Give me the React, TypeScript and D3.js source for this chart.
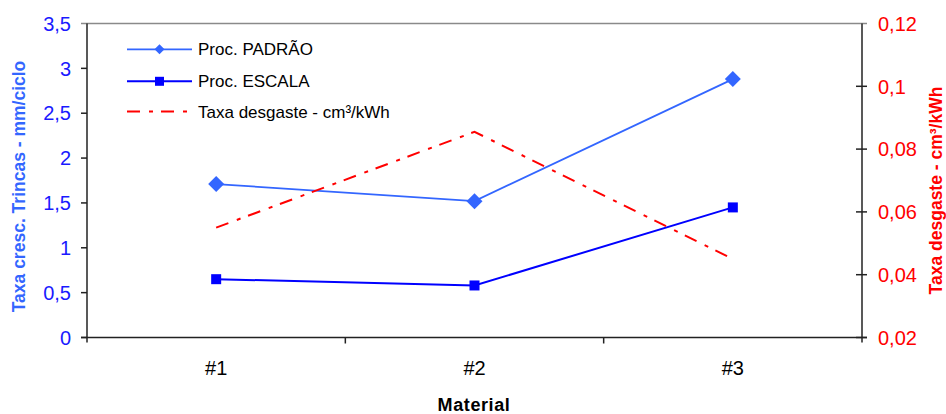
import React from "react";
import * as d3 from "d3";

const categories = ["#1", "#2", "#3"];
const padraoValues = [1.71, 1.52, 2.88];
const escalaValues = [0.65, 0.58, 1.45];
const desgasteValues = [0.055, 0.0855, 0.045];
const leftTickValues = [0, 0.5, 1, 1.5, 2, 2.5, 3, 3.5];
const leftTickLabels = ["0", "0,5", "1", "1,5", "2", "2,5", "3", "3,5"];
const rightTickValues = [0.02, 0.04, 0.06, 0.08, 0.1, 0.12];
const rightTickLabels = ["0,02", "0,04", "0,06", "0,08", "0,1", "0,12"];
const seriesNames = ["Proc. PADRÃO", "Proc. ESCALA", "Taxa desgaste - cm³/kWh"];

const W = 946;
const H = 414;
const left = 87;
const right = 862;
const top = 23.5;
const bottom = 337.5;

const C_PADRAO = "#3366FF";
const C_ESCALA = "#0000FF";
const C_RED = "#FF0000";
const FONT = "Liberation Sans, Arial, sans-serif";

export default function App() {
  const x = d3.scaleBand<string>().domain(categories).range([left, right]);
  const yL = d3.scaleLinear().domain([0, 3.5]).range([bottom, top]);
  const yR = d3.scaleLinear().domain([0.02, 0.12]).range([bottom, top]);
  const cx = (c: string) => (x(c) as number) + x.bandwidth() / 2;

  const lineL = d3
    .line<number>()
    .x((_, i) => cx(categories[i]))
    .y((d) => yL(d));
  const lineR = d3
    .line<number>()
    .x((_, i) => cx(categories[i]))
    .y((d) => yR(d));

  const diamond = (px: number, py: number, r: number) =>
    `M${px},${py - r}L${px + r},${py}L${px},${py + r}L${px - r},${py}Z`;

  const dash = "13 9 4 8";
  const legendX1 = 127;
  const legendX2 = 192;
  const legendYs = [49.3, 81.3, 111.5];

  return (
    <svg
      width={W}
      height={H}
      style={{ position: "absolute", left: 0, top: 0, background: "#fff" }}
      fontFamily={FONT}
    >
      {/* top border */}
      <line x1={left - 6} x2={right + 5} y1={top} y2={top} stroke="#8a8a8a" strokeWidth={1.5} />
      {/* axes */}
      <g stroke="#222" strokeWidth={1.5} fill="none">
        <line x1={left} y1={top} x2={left} y2={bottom + 5} />
        <line x1={left - 6} y1={bottom} x2={right + 5} y2={bottom} />
        <line x1={right} y1={top} x2={right} y2={bottom + 5} />
        {leftTickValues.filter((v) => v !== 3.5).map((v) => (
          <line key={"lt" + v} x1={left - 6} x2={left} y1={yL(v)} y2={yL(v)} />
        ))}
        {rightTickValues.filter((v) => v !== 0.12).map((v) => (
          <line key={"rt" + v} x1={right - 6} x2={right + 5} y1={yR(v)} y2={yR(v)} />
        ))}
        {categories.slice(1).map((c) => (
          <line key={"xt" + c} x1={x(c) as number} x2={x(c) as number} y1={bottom} y2={bottom + 6} />
        ))}
      </g>

      {/* tick labels */}
      {leftTickValues.map((v, i) => (
        <text key={"ll" + v} x={71} y={yL(v)} dy="0.36em" textAnchor="end" fontSize={20} fill="#1a1aff">
          {leftTickLabels[i]}
        </text>
      ))}
      {rightTickValues.map((v, i) => (
        <text key={"rl" + v} x={878} y={yR(v)} dy="0.36em" textAnchor="start" fontSize={20} fill={C_RED}>
          {rightTickLabels[i]}
        </text>
      ))}
      {categories.map((c) => (
        <text key={"xl" + c} x={cx(c)} y={375} textAnchor="middle" fontSize={20} fill="#000">
          {c}
        </text>
      ))}

      {/* axis titles */}
      <text x={W / 2 + 1} y={411} textAnchor="middle" fontSize={18} fontWeight="bold" fill="#000" letterSpacing={0.6}>
        Material
      </text>
      <text
        transform={`translate(25,186.5) rotate(-90)`}
        textAnchor="middle"
        fontSize={17.5}
        fontWeight="bold"
        fill={C_PADRAO}
      >
        Taxa cresc. Trincas - mm/ciclo
      </text>
      <text
        transform={`translate(942,190.5) rotate(-90)`}
        textAnchor="middle"
        fontSize={17.5}
        fontWeight="bold"
        fill={C_RED}
      >
        Taxa desgaste - cm³/kWh
      </text>

      {/* series */}
      <path d={lineL(padraoValues) || ""} fill="none" stroke={C_PADRAO} strokeWidth={1.8} />
      <path d={lineL(escalaValues) || ""} fill="none" stroke={C_ESCALA} strokeWidth={2} />
      <path d={lineR(desgasteValues) || ""} fill="none" stroke={C_RED} strokeWidth={2} strokeDasharray={dash} />
      {padraoValues.map((v, i) => (
        <path key={"pm" + i} d={diamond(cx(categories[i]), yL(v), 8)} fill={C_PADRAO} />
      ))}
      {escalaValues.map((v, i) => (
        <rect key={"em" + i} x={cx(categories[i]) - 5} y={yL(v) - 5} width={10} height={10} fill={C_ESCALA} />
      ))}

      {/* legend */}
      <g>
        <line x1={legendX1} x2={legendX2} y1={legendYs[0]} y2={legendYs[0]} stroke={C_PADRAO} strokeWidth={1.8} />
        <path d={diamond((legendX1 + legendX2) / 2, legendYs[0], 5)} fill={C_PADRAO} />
        <line x1={legendX1} x2={legendX2} y1={legendYs[1]} y2={legendYs[1]} stroke={C_ESCALA} strokeWidth={2} />
        <rect x={(legendX1 + legendX2) / 2 - 4.5} y={legendYs[1] - 4.5} width={9} height={9} fill={C_ESCALA} />
        <line x1={legendX1} x2={legendX2} y1={legendYs[2]} y2={legendYs[2]} stroke={C_RED} strokeWidth={2} strokeDasharray={dash} />
        {seriesNames.map((n, i) => (
          <text key={n} x={198} y={legendYs[i]} dy="0.36em" fontSize={17} fill="#000">
            {n}
          </text>
        ))}
      </g>
    </svg>
  );
}
